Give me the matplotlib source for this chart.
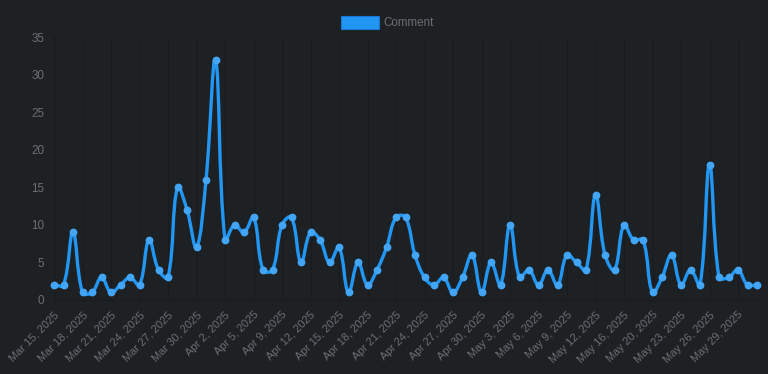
import numpy as np
import pandas as pd
import matplotlib
matplotlib.use("Agg")
import matplotlib.pyplot as plt
from matplotlib.path import Path
from matplotlib.patches import PathPatch, Rectangle

# data: comments per day (a few days missing in the source)
all_days = pd.date_range("2025-03-15", "2025-05-31", freq="D")
skipped = pd.to_datetime(["2025-04-07", "2025-05-14", "2025-05-18"])
days = all_days.difference(skipped)
labels = [d.strftime("%b ") + str(d.day) + d.strftime(", %Y") for d in days]

comments = [2, 2, 9, 1, 1, 3, 1, 2, 3, 2, 8, 4, 3, 15, 12, 7, 16, 32, 8, 10,
            9, 11, 4, 4, 10, 11, 5, 9, 8, 5, 7, 1, 5, 2, 4, 7, 11, 11, 6, 3,
            2, 3, 1, 3, 6, 1, 5, 2, 10, 3, 4, 2, 4, 2, 6, 5, 4, 14, 6, 4,
            10, 8, 8, 1, 3, 6, 2, 4, 2, 18, 3, 3, 4, 2, 2]

BG = "#1e2124"
GRID = "#191b1e"
TXT = "#6b6e72"
LINE = "#2196f3"
POINT = "#42a5f5"


def spline_path(x, y, sx, sy, t=0.4):
    # chart.js style bezier (tension 0.4), distances measured in pixels
    n = len(x)
    verts = [(x[0], y[0])]
    codes = [Path.MOVETO]
    ctrl = []
    for i in range(n):
        p = (x[max(i - 1, 0)], y[max(i - 1, 0)])
        c = (x[i], y[i])
        q = (x[min(i + 1, n - 1)], y[min(i + 1, n - 1)])
        d01 = np.hypot((c[0] - p[0]) * sx, (c[1] - p[1]) * sy)
        d12 = np.hypot((q[0] - c[0]) * sx, (q[1] - c[1]) * sy)
        tot = d01 + d12
        s01 = d01 / tot if tot else 0
        s12 = d12 / tot if tot else 0
        fa, fb = t * s01, t * s12
        prev_c = (c[0] - fa * (q[0] - p[0]), c[1] - fa * (q[1] - p[1]))
        next_c = (c[0] + fb * (q[0] - p[0]), c[1] + fb * (q[1] - p[1]))
        ctrl.append((prev_c, next_c))
    for i in range(1, n):
        verts += [ctrl[i - 1][1], ctrl[i][0], (x[i], y[i])]
        codes += [Path.CURVE4] * 3
    return Path(verts, codes)


plt.rcParams["font.family"] = ["Liberation Sans", "DejaVu Sans"]
fig = plt.figure(figsize=(7.68, 3.74), dpi=100, facecolor=BG)
ax = fig.add_axes([54 / 768, 1 - 300 / 374, (757 - 54) / 768, (300 - 37) / 374])
ax.set_facecolor(BG)

xs = np.arange(len(comments))
ax.set_xlim(0, len(comments) - 1)
ax.set_ylim(0, 35)

sx = (757 - 54) / (len(comments) - 1)
sy = (300 - 37) / 35
path = spline_path(xs, comments, sx, sy)
ax.add_patch(PathPatch(path, facecolor="none", edgecolor=LINE, lw=2.4,
                       capstyle="round", joinstyle="round", zorder=3,
                       clip_on=False))
ax.plot(xs, comments, "o", color=POINT, ms=4.6, mec=POINT, zorder=4,
        clip_on=False)

ax.set_xticks(xs[::3])
ax.set_xticklabels(labels[::3], rotation=45, ha="right", rotation_mode="anchor",
                   color=TXT, fontsize=8.0)
ax.set_yticks(range(0, 36, 5))
ax.set_yticklabels([str(v) for v in range(0, 36, 5)], color=TXT, fontsize=8.4)
ax.tick_params(axis="x", length=0, pad=7)
ax.tick_params(axis="y", length=0, pad=7)
ax.grid(axis="x", color=GRID, lw=1)
for s in ["top", "right"]:
    ax.spines[s].set_visible(False)
ax.spines["left"].set_color(GRID)
ax.spines["bottom"].set_color(GRID)

# legend at the top, chart.js style
fig.patches.append(Rectangle((341 / 768, 1 - 29 / 374), 38 / 768, 13 / 374,
                             transform=fig.transFigure, facecolor=LINE,
                             edgecolor="#1976d2", lw=0.8))
fig.text(383 / 768, 1 - 22.5 / 374, "Comment", color=TXT, fontsize=8.4,
         va="center", ha="left")

fig.savefig("out.png", dpi=100, facecolor=BG)
